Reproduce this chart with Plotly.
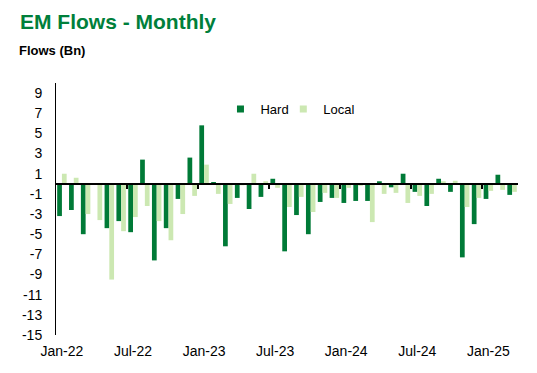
import plotly.graph_objects as go

months = ["Jan-22","Feb-22","Mar-22","Apr-22","May-22","Jun-22","Jul-22","Aug-22","Sep-22","Oct-22","Nov-22","Dec-22",
          "Jan-23","Feb-23","Mar-23","Apr-23","May-23","Jun-23","Jul-23","Aug-23","Sep-23","Oct-23","Nov-23","Dec-23",
          "Jan-24","Feb-24","Mar-24","Apr-24","May-24","Jun-24","Jul-24","Aug-24","Sep-24","Oct-24","Nov-24","Dec-24",
          "Jan-25","Feb-25","Mar-25"]

hard = [-3.2, -2.6, -5.0, 0.0, -4.4, -3.7, -4.8, 2.4, -7.6, -4.4, -1.5, 2.6,
        5.8, 0.1, -6.2, -1.4, -2.5, -1.3, 0.5, -6.7, -3.1, -5.0, -1.8, -1.4,
        -1.9, -1.7, -1.7, 0.25, -0.35, 1.0, -0.8, -2.2, 0.5, -0.8, -7.3, -4.0,
        -1.5, 0.9, -1.1]

local = [1.0, 0.6, -3.0, -3.6, -9.5, -4.7, -3.3, -2.2, -3.7, -5.6, -3.0, -1.2,
         1.9, -1.0, -2.0, -0.15, 1.0, 0.25, -0.4, -2.3, -1.3, -2.8, -0.9, -1.4,
         -0.4, -0.2, -3.8, -1.0, -0.9, -1.9, -1.2, -1.0, 0.25, 0.3, -2.3, -1.4,
         -0.7, -0.6, -0.8]

y_ticks = list(range(-15, 10, 2))
x_label_months = ["Jan-22","Jul-22","Jan-23","Jul-23","Jan-24","Jul-24","Jan-25"]

DARK = "#007A37"
LIGHT = "#CCE8B2"
FONT = "Liberation Sans, Arial, sans-serif"

fig = go.Figure()
fig.add_trace(go.Bar(x=months, y=hard, name="Hard", marker=dict(color=DARK, line_width=0), showlegend=False))
fig.add_trace(go.Bar(x=months, y=local, name="Local", marker=dict(color=LIGHT, line_width=0), showlegend=False))
# legend proxies with small square markers
fig.add_trace(go.Scatter(x=[None], y=[None], mode="markers", name="Hard", legend="legend",
                         marker=dict(symbol="square", size=7, color=DARK)))
fig.add_trace(go.Scatter(x=[None], y=[None], mode="markers", name="Local", legend="legend2",
                         marker=dict(symbol="square", size=7, color=LIGHT)))

n = len(months)
boundaries = [months.index(m) - 0.5 for m in x_label_months[1:]]

leg_common = dict(orientation="h", y=0.897, xanchor="left", yanchor="middle",
                  font=dict(size=13, color="black"), bgcolor="rgba(0,0,0,0)",
                  itemwidth=30, itemclick=False)

fig.update_layout(
    width=537, height=373,
    margin=dict(l=55.5, r=19, t=83, b=38),
    paper_bgcolor="white", plot_bgcolor="white",
    barmode="group", bargap=0.2, bargroupgap=0,
    font=dict(family=FONT, size=14, color="black"),
    showlegend=True,
    legend=dict(x=0.356, **leg_common),
    legend2=dict(x=0.492, **leg_common),
    xaxis=dict(type="category", range=[-0.5, n - 0.5], tickmode="array",
               tickvals=x_label_months, ticktext=x_label_months,
               showline=False, ticks="", showgrid=False, zeroline=False,
               ticklabelstandoff=6, tickfont=dict(size=14)),
    xaxis2=dict(type="linear", overlaying="x", anchor="free", position=0.6,
                range=[-0.5, n - 0.5], tickmode="array", tickvals=boundaries,
                showticklabels=False, ticks="outside", ticklen=4, tickwidth=1.5,
                tickcolor="black", showline=True, linecolor="black", linewidth=1.5,
                showgrid=False, zeroline=False, side="bottom"),
    yaxis=dict(range=[-15, 10], tickmode="array", tickvals=y_ticks,
               ticktext=[str(v) for v in y_ticks],
               showline=True, linecolor="black", linewidth=1, ticks="",
               showgrid=False, zeroline=False, ticklabelstandoff=10,
               tickfont=dict(size=14)),
)
# dummy trace to activate xaxis2
fig.add_trace(go.Scatter(x=[None], y=[None], xaxis="x2", yaxis="y", showlegend=False, hoverinfo="skip"))

fig.add_annotation(text="<b>EM Flows - Monthly</b>", xref="paper", yref="paper",
                   x=0, y=1, xanchor="left", yanchor="middle",
                   xshift=-38, yshift=83 - 21, showarrow=False,
                   font=dict(family=FONT, size=21, color="#007F3B"))
fig.add_annotation(text="<b>Flows (Bn)</b>", xref="paper", yref="paper",
                   x=0, y=1, xanchor="left", yanchor="middle",
                   xshift=-39, yshift=83 - 50, showarrow=False,
                   font=dict(family=FONT, size=13, color="black"))

fig.write_html("out.html", config={"displayModeBar": False},
               post_script="document.body.style.margin='0';document.body.style.padding='0';")
